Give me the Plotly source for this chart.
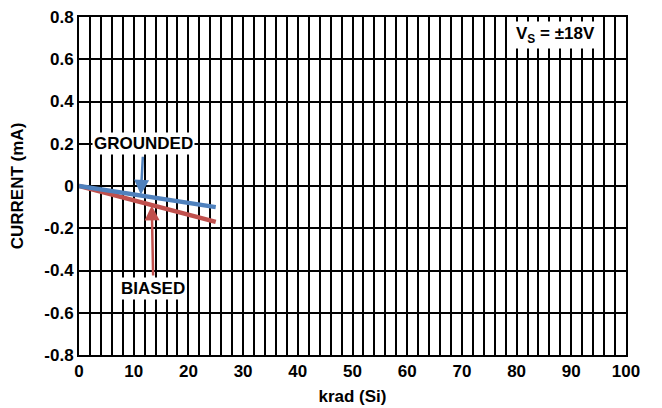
import plotly.graph_objects as go

dose = [0, 25]
grounded = [0, -0.1]
biased = [0, -0.17]

y_ticks = [0.8, 0.6, 0.4, 0.2, 0, -0.2, -0.4, -0.6, -0.8]
y_ticktext = ["0.8", "0.6", "0.4", "0.2", "0", "-0.2", "-0.4", "-0.6", "-0.8"]
x_ticks = [0, 10, 20, 30, 40, 50, 60, 70, 80, 90, 100]

BLUE = "#4f81bd"
RED = "#c0504d"
FONT = "Liberation Sans, Arial, sans-serif"
TXT = dict(size=17, color="black", family=FONT, weight="bold")

fig = go.Figure()
fig.add_trace(go.Scatter(x=dose, y=biased, mode="lines",
                         line=dict(color=RED, width=4.5), showlegend=False))
fig.add_trace(go.Scatter(x=dose, y=grounded, mode="lines",
                         line=dict(color=BLUE, width=4.5), showlegend=False))

# Labels with arrows
fig.add_annotation(x=11.3, y=-0.042, ax=11.8, ay=0.2, axref="x", ayref="y",
                   text="GROUNDED", showarrow=True, arrowhead=2, arrowsize=1.2,
                   arrowwidth=2.5, arrowcolor=BLUE, bgcolor="white", font=TXT,
                   borderpad=1, standoff=0, startstandoff=2)
fig.add_annotation(x=13.3, y=-0.092, ax=13.6, ay=-0.485, axref="x", ayref="y",
                   text="BIASED", showarrow=True, arrowhead=2, arrowsize=1.2,
                   arrowwidth=2.5, arrowcolor=RED, bgcolor="white", font=TXT,
                   borderpad=1, standoff=0, startstandoff=2)
fig.add_annotation(x=87.2, y=0.715, text="V<sub>S</sub> = ±18V", showarrow=False,
                   bgcolor="white", font=TXT, borderpad=2)

fig.update_layout(
    width=654, height=400,
    margin=dict(l=71, r=36, t=9, b=53),
    plot_bgcolor="white", paper_bgcolor="white",
    font=dict(family=FONT, size=17, color="black", weight="bold"),
)
fig.update_xaxes(
    range=[0, 100], tickvals=x_ticks, ticks="", automargin=False,
    showgrid=True, gridcolor="black", gridwidth=2,
    minor=dict(dtick=2, showgrid=True, gridcolor="black", gridwidth=2),
    showline=True, linecolor="black", linewidth=2, mirror=True,
    zeroline=False, ticklabeloverflow="allow",
    title=dict(text="krad (Si)", standoff=10, font=TXT),
    tickfont=TXT,
)
fig.update_yaxes(
    range=[-0.8, 0.8], tickvals=y_ticks, ticktext=y_ticktext, ticks="", automargin=False,
    showgrid=True, gridcolor="black", gridwidth=2,
    showline=True, linecolor="black", linewidth=2, mirror=True,
    zeroline=False, ticklabeloverflow="allow",
    title=dict(text="CURRENT (mA)", standoff=16, font=TXT),
    tickfont=TXT,
)

fig.write_html("out.html")
